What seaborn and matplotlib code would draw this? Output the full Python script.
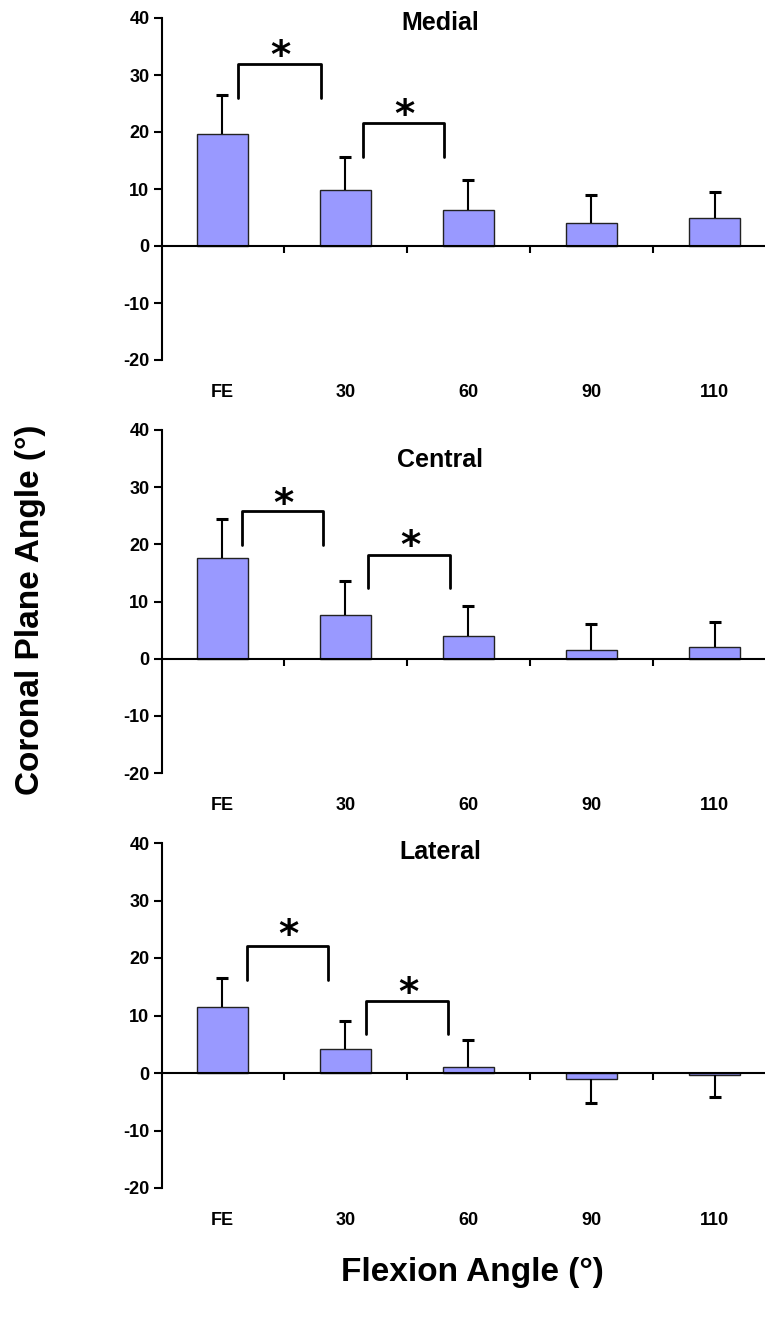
import numpy as np
import matplotlib
matplotlib.use("Agg")
import matplotlib.pyplot as plt
import seaborn as sns

categories = ["FE", "30", "60", "90", "110"]
regions = ["Medial", "Central", "Lateral"]

medial_mean = [19.6, 9.9, 6.4, 4.0, 5.0]
medial_sd = [6.9, 5.8, 5.1, 4.9, 4.5]
central_mean = [17.6, 7.7, 3.9, 1.5, 2.0]
central_sd = [6.8, 5.9, 5.4, 4.6, 4.5]
lateral_mean = [11.4, 4.2, 1.0, -1.0, -0.4]
lateral_sd = [5.2, 4.9, 4.7, 4.2, 3.7]

means = [medial_mean, central_mean, lateral_mean]
sds = [medial_sd, central_sd, lateral_sd]

# significance brackets: (x start, x end, top, leg bottom, asterisk centre y)
medial_brackets = [(0.13, 0.80, 32.0, 26.0, 35.2), (1.14, 1.80, 21.6, 15.7, 24.9)]
central_brackets = [(0.16, 0.82, 25.9, 19.9, 28.9), (1.18, 1.85, 18.1, 12.3, 21.6)]
lateral_brackets = [(0.20, 0.86, 22.1, 16.2, 25.9), (1.17, 1.83, 12.6, 6.7, 15.8)]
brackets = [medial_brackets, central_brackets, lateral_brackets]
title_y = [39.2, 34.7, 38.4]

sns.set_style("white")
plt.rcParams["font.family"] = ["Liberation Sans", "DejaVu Sans"]
plt.rcParams["font.weight"] = "bold"
plt.rcParams["axes.unicode_minus"] = False
plt.rcParams["text.color"] = "black"
plt.rcParams["xtick.color"] = "black"
plt.rcParams["ytick.color"] = "black"

W, H = 768, 1319
fig = plt.figure(figsize=(W / 100, H / 100), dpi=100)
panel_px = [(18, 360), (430, 773), (843, 1188)]
left, right = 162, 765
bar_color = "#9999FF"

for i, (top, bottom) in enumerate(panel_px):
    ax = fig.add_axes([left / W, 1 - bottom / H, (right - left) / W, (bottom - top) / H])
    vals = np.array(means[i])
    err = np.array(sds[i])
    xs = np.arange(len(categories))
    sns.barplot(x=categories, y=vals, color=bar_color, saturation=1,
                edgecolor="#222222", linewidth=1.0, width=0.41, ax=ax, zorder=2)
    # one-sided error bars, pointing away from zero
    ends = vals + np.sign(vals) * err
    ax.vlines(xs, vals, ends, color="black", lw=1.5, zorder=3)
    ax.plot(xs, ends, ls="none", marker="_", ms=9, mew=2.2, color="black", zorder=3)

    ax.set_xlim(-0.49, 4.41)
    ax.set_ylim(-20, 40)
    ax.set_yticks(np.arange(-20, 41, 10))
    ax.set_xticks(xs)
    ax.set_xticklabels(categories)
    ax.tick_params(axis="x", length=0, pad=17, labelsize=13)
    ax.tick_params(axis="y", direction="out", length=6, width=1.5, pad=3,
                   labelsize=13, left=True)
    for s in ["top", "right", "bottom"]:
        ax.spines[s].set_visible(False)
    ax.spines["left"].set_linewidth(1.5)
    ax.spines["left"].set_color("black")
    ax.set_xlabel("")
    ax.set_ylabel("")

    # zero line with category separators
    ax.axhline(0, color="black", lw=1.5, zorder=4)
    ax.vlines(xs[:-1] + 0.5, -1.3, 0, color="black", lw=1.5, zorder=4)

    for x0, x1, yt, yb, ya in brackets[i]:
        ax.plot([x0, x0, x1, x1], [yb, yt, yt, yb], color="black", lw=2, zorder=4)
        ax.annotate("*", xy=((x0 + x1) / 2 + 0.01, ya), xytext=(0, -0.59 * 28),
                    textcoords="offset points", ha="center", va="baseline",
                    fontsize=28, fontweight="bold", family=["DejaVu Sans"])

    ax.text(1.77, title_y[i], regions[i], ha="center", va="center",
            fontsize=18, fontweight="bold")

fig.text(0.04, 0.5375, "Coronal Plane Angle (°)", rotation=90, ha="center",
         va="center", fontsize=24, fontweight="bold")
fig.text(0.615, 0.0356, "Flexion Angle (°)", ha="center", va="center",
         fontsize=24, fontweight="bold")

fig.savefig("out.png", dpi=100)
